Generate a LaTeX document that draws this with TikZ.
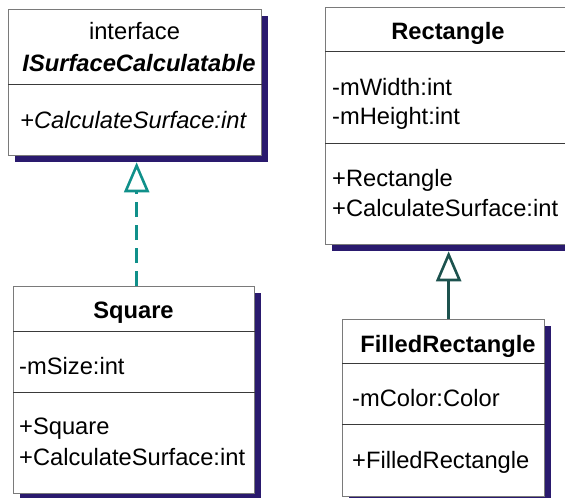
\documentclass[tikz,border=0pt]{standalone}
\usepackage{fontspec}
\setmainfont{Liberation Sans}
\usetikzlibrary{arrows.meta,shadows}
\definecolor{shadowc}{HTML}{2A1A6E}
\definecolor{tealc}{HTML}{10908A}
\definecolor{dtealc}{HTML}{1C524E}
\definecolor{borderc}{HTML}{7A7A7A}
\definecolor{sepc}{HTML}{3A3A3A}
\tikzset{
  classbox/.style={draw=borderc, line width=1.3pt, fill=white, anchor=north west, inner sep=0pt,
    drop shadow={shadow xshift=6pt, shadow yshift=-6pt, fill=shadowc, opacity=1}},
  sepline/.style={draw=sepc, line width=0.9pt},
  txt/.style={anchor=base west, inner sep=0pt, font=\fontsize{23.7}{30}\selectfont},
  ttl/.style={anchor=base, inner sep=0pt, font=\fontsize{23.7}{30}\selectfont},
  realize/.style={draw=tealc, line width=3.6pt, dash pattern=on 15pt off 8pt,
    -{Triangle[open, length=30pt, width=25pt, line width=2.6pt, sep=0pt]}},
  inherit/.style={draw=dtealc, line width=3.6pt,
    -{Triangle[open, length=30pt, width=25pt, line width=2.6pt, sep=0pt]}},
}
\begin{document}
\begin{tikzpicture}[x=1pt,y=-1pt]
\useasboundingbox (0,0) rectangle (565,498);
\clip (0,0) rectangle (565,498);
\fill[white] (0,0) rectangle (565,498);
% interface
\node[classbox, minimum width=253pt, minimum height=146pt] (iface) at (8,9) {};
\draw[sepline] (iface.west |- 0,84) -- (iface.east |- 0,84);
\node[ttl] (ifst) at (134.5,39) {interface};
\node[ttl] (ifname) at (139,71) {\bfseries\itshape ISurfaceCalculatable};
\node[txt] (ifm) at (20,128) {\itshape +CalculateSurface:int};
% Rectangle
\node[classbox, minimum width=246pt, minimum height=237pt] (rect) at (325,7) {};
\draw[sepline] (rect.west |- 0,51) -- (rect.east |- 0,51);
\draw[sepline] (rect.west |- 0,143) -- (rect.east |- 0,143);
\node[ttl] (rname) at (448,39) {\bfseries Rectangle};
\node[txt] (rf1) at (332,95) {-mWidth:int};
\node[txt] (rf2) at (332,124) {-mHeight:int};
\node[txt] (rm1) at (332,186) {+Rectangle};
\node[txt] (rm2) at (332,216) {+CalculateSurface:int};
% Square
\node[classbox, minimum width=241pt, minimum height=207pt] (square) at (13,286) {};
\draw[sepline] (square.west |- 0,331) -- (square.east |- 0,331);
\draw[sepline] (square.west |- 0,392) -- (square.east |- 0,392);
\node[ttl] (sname) at (133.5,318) {\bfseries Square};
\node[txt] (sf1) at (19,374) {-mSize:int};
\node[txt] (sm1) at (19,434) {+Square};
\node[txt] (sm2) at (19,465) {+CalculateSurface:int};
% FilledRectangle
\node[classbox, minimum width=202pt, minimum height=177pt] (filled) at (342,319) {};
\draw[sepline] (filled.west |- 0,363) -- (filled.east |- 0,363);
\draw[sepline] (filled.west |- 0,424) -- (filled.east |- 0,424);
\node[ttl] (fname) at (448,352) {\bfseries FilledRectangle};
\node[txt] (ff1) at (352,406) {-mColor:Color};
\node[txt] (fm1) at (352,468) {+FilledRectangle};
% connectors
\draw[realize] ([xshift=2.5pt]square.north) -- ([xshift=2.5pt, yshift=-6pt]square.north |- iface.south);
\draw[inherit] ([xshift=5pt]filled.north) -- ([xshift=5pt, yshift=-6pt]filled.north |- rect.south);
\end{tikzpicture}
\end{document}
